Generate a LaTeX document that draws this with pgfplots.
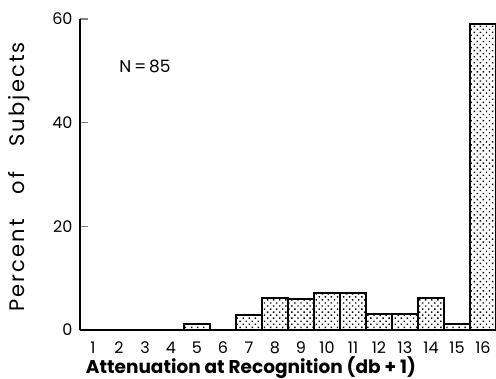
\documentclass[border=0pt]{standalone}
\usepackage{fontspec}
\setmainfont{Poppins}
\usepackage{pgfplots}
\pgfplotsset{compat=1.18}
\usetikzlibrary{patterns.meta}
\begin{document}
\begin{tikzpicture}
\begin{axis}[
  scale only axis, width=416pt, height=311pt,
  xmin=0.5, xmax=16.5, ymin=0, ymax=60,
  axis x line=bottom, axis y line=left,
  axis line style={-, line width=1.2pt},
  xtick={1,...,16}, ytick={0,20,40,60},
  major x tick style={draw=none},
  extra x ticks={1.5,2.5,3.5},
  extra x tick labels={},
  extra x tick style={tick style={draw=black, line width=0.8pt}, major tick length=4pt},
  y tick style={line width=1.2pt},
  major tick length=8pt, tick align=inside,
  /pgf/number format/assume math mode=true,
  ticklabel style={font=\fontsize{16}{16}\selectfont},
  yticklabel style={xshift=-4pt},
  xticklabel style={anchor=center, yshift=-18pt},
  xlabel={Attenuation at Recognition (db + 1)},
  xlabel style={font=\fontsize{18.5}{18.5}\selectfont\bfseries,
    at={(axis description cs:0.411,0)}, anchor=center, yshift=-38pt},
  ylabel={Percent\hspace{1.2em}of\hspace{1.2em}Subjects},
  ylabel style={font=\fontsize{21}{21}\selectfont\addfontfeature{LetterSpace=10},
    at={(axis description cs:0,0.492)}, anchor=center, yshift=61pt},
  clip=false,
]
\addplot[ybar, bar width=26pt, bar shift=0pt, draw=black, line width=2pt,
  pattern={Dots[distance=4.3pt,radius=1pt,angle=45]}]
  coordinates {(1,0) (2,0) (3,0) (4,0) (5,1.2) (6,0) (7,2.9) (8,6.1) (9,5.9)
  (10,7.1) (11,7.1) (12,3.0) (13,3.0) (14,6.1) (15,1.2) (16,59.0)};
\node[font=\fontsize{17}{17}\selectfont] at (axis cs:3.0,50.9) {N\,=\,85};
\end{axis}
\pgfresetboundingbox
\path (current axis.south west) ++(-80pt,-49pt) coordinate (bbsw);
\path (current axis.north east) ++(0pt,19pt) coordinate (bbne);
\path (bbsw) rectangle (bbne);
\end{tikzpicture}
\end{document}
